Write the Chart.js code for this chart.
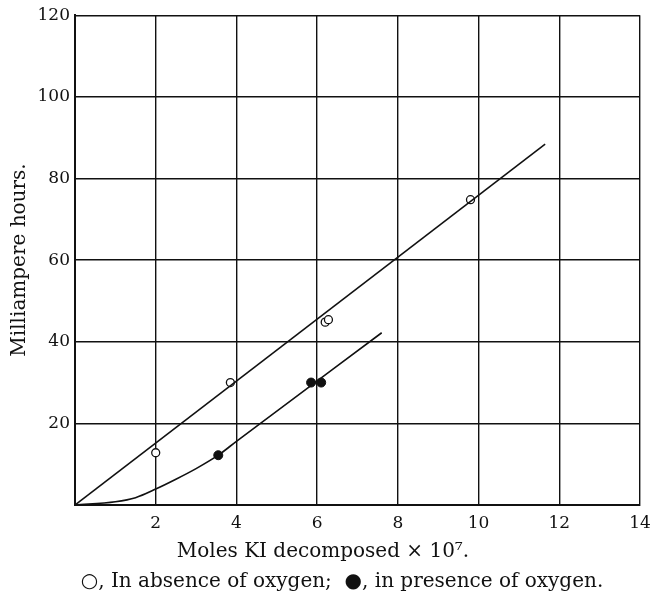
<!DOCTYPE html>
<html>
<head>
<meta charset="utf-8">
<script src="https://cdn.jsdelivr.net/npm/chart.js@4.4.0/dist/chart.umd.min.js"></script>
<style>
    html, body { margin: 0; padding: 0; background: #fff; }
    #wrap { width: 650px; height: 598px; }
</style>
</head>
<body>
<div id="wrap"><canvas id="kiChart" width="650" height="598"></canvas></div>
<script>
// readings taken off the plot
const absenceX = [2.0, 3.85, 6.2, 6.28, 9.8];
const absenceY = [12.8, 30.0, 44.8, 45.4, 74.8];
const presenceX = [3.55, 5.85, 6.1];
const presenceY = [12.2, 30.0, 30.0];

const absenceLineX = [0, 11.65];
const absenceLineY = [0, 88.4];
const presenceLineX = [0, 1.0, 1.5, 2.0, 2.5, 3.0, 3.55, 4.0, 7.6];
const presenceLineY = [0, 0.8, 1.8, 3.9, 6.3, 8.9, 12.2, 15.6, 42.2];

const xTicks = [0, 2, 4, 6, 8, 10, 12, 14];
const yTicks = [0, 20, 40, 60, 80, 100, 120];

const serif = '"DejaVu Serif", "Liberation Serif", serif';

function toPoints(xs, ys) {
    return xs.map(function(x, i) { return { x: x, y: ys[i] }; });
}

const textPlugin = {
    id: 'textPlugin',
    afterDraw: function(chart) {
        const ctx = chart.ctx;
        ctx.save();
        ctx.fillStyle = '#111';
        ctx.textAlign = 'center';
        ctx.textBaseline = 'middle';
        ctx.font = '20px ' + serif;
        ctx.fillText('Moles KI decomposed \u00D7 10\u2077.', 323, 552);
        ctx.fillText('\u25CB, In absence of oxygen;  \u25CF, in presence of oxygen.', 342, 582);
        ctx.translate(20, 260);
        ctx.rotate(-Math.PI / 2);
        ctx.fillText('Milliampere hours.', 0, 0);
        ctx.restore();
    }
};

document.addEventListener('DOMContentLoaded', function() {
    const ctx = document.getElementById('kiChart').getContext('2d');
    new Chart(ctx, {
        type: 'scatter',
        data: {
            datasets: [{
                label: 'absence line',
                data: toPoints(absenceLineX, absenceLineY),
                showLine: true,
                borderColor: '#111',
                borderWidth: 1.6,
                pointRadius: 0
            }, {
                label: 'presence line',
                data: toPoints(presenceLineX, presenceLineY),
                showLine: true,
                cubicInterpolationMode: 'monotone',
                borderColor: '#111',
                borderWidth: 1.6,
                pointRadius: 0
            }, {
                label: 'In absence of oxygen',
                data: toPoints(absenceX, absenceY),
                pointRadius: 4,
                pointBackgroundColor: '#fff',
                pointBorderColor: '#111',
                pointBorderWidth: 1.3
            }, {
                label: 'In presence of oxygen',
                data: toPoints(presenceX, presenceY),
                pointRadius: 4.5,
                pointBackgroundColor: '#111',
                pointBorderColor: '#111',
                pointBorderWidth: 1
            }]
        },
        options: {
            responsive: false,
            animation: false,
            layout: { padding: { top: 12, right: 10, left: 0, bottom: 0 } },
            plugins: {
                legend: { display: false },
                tooltip: { enabled: false }
            },
            scales: {
                x: {
                    type: 'linear',
                    min: 0,
                    max: 14,
                    afterFit: function(scale) {
                        scale.height = 93;
                        scale.paddingRight = 0;
                    },
                    afterBuildTicks: function(scale) {
                        scale.ticks = xTicks.map(function(v) { return { value: v }; });
                    },
                    ticks: {
                        padding: 8,
                        color: '#111',
                        font: { family: serif, size: 17 },
                        callback: function(v) { return v === 0 ? '' : v; }
                    },
                    grid: { color: '#111', lineWidth: 1.4, drawTicks: false },
                    border: { color: '#111', width: 2 }
                },
                y: {
                    type: 'linear',
                    min: 0,
                    max: 120,
                    afterFit: function(scale) { scale.width = 75; },
                    afterBuildTicks: function(scale) {
                        scale.ticks = yTicks.map(function(v) { return { value: v }; });
                    },
                    ticks: {
                        padding: 5,
                        color: '#111',
                        font: { family: serif, size: 17 },
                        callback: function(v) { return v === 0 ? '' : v; }
                    },
                    grid: { color: '#111', lineWidth: 1.4, drawTicks: false },
                    border: { color: '#111', width: 2 }
                }
            }
        },
        plugins: [textPlugin]
    });
});
</script>
</body>
</html>
